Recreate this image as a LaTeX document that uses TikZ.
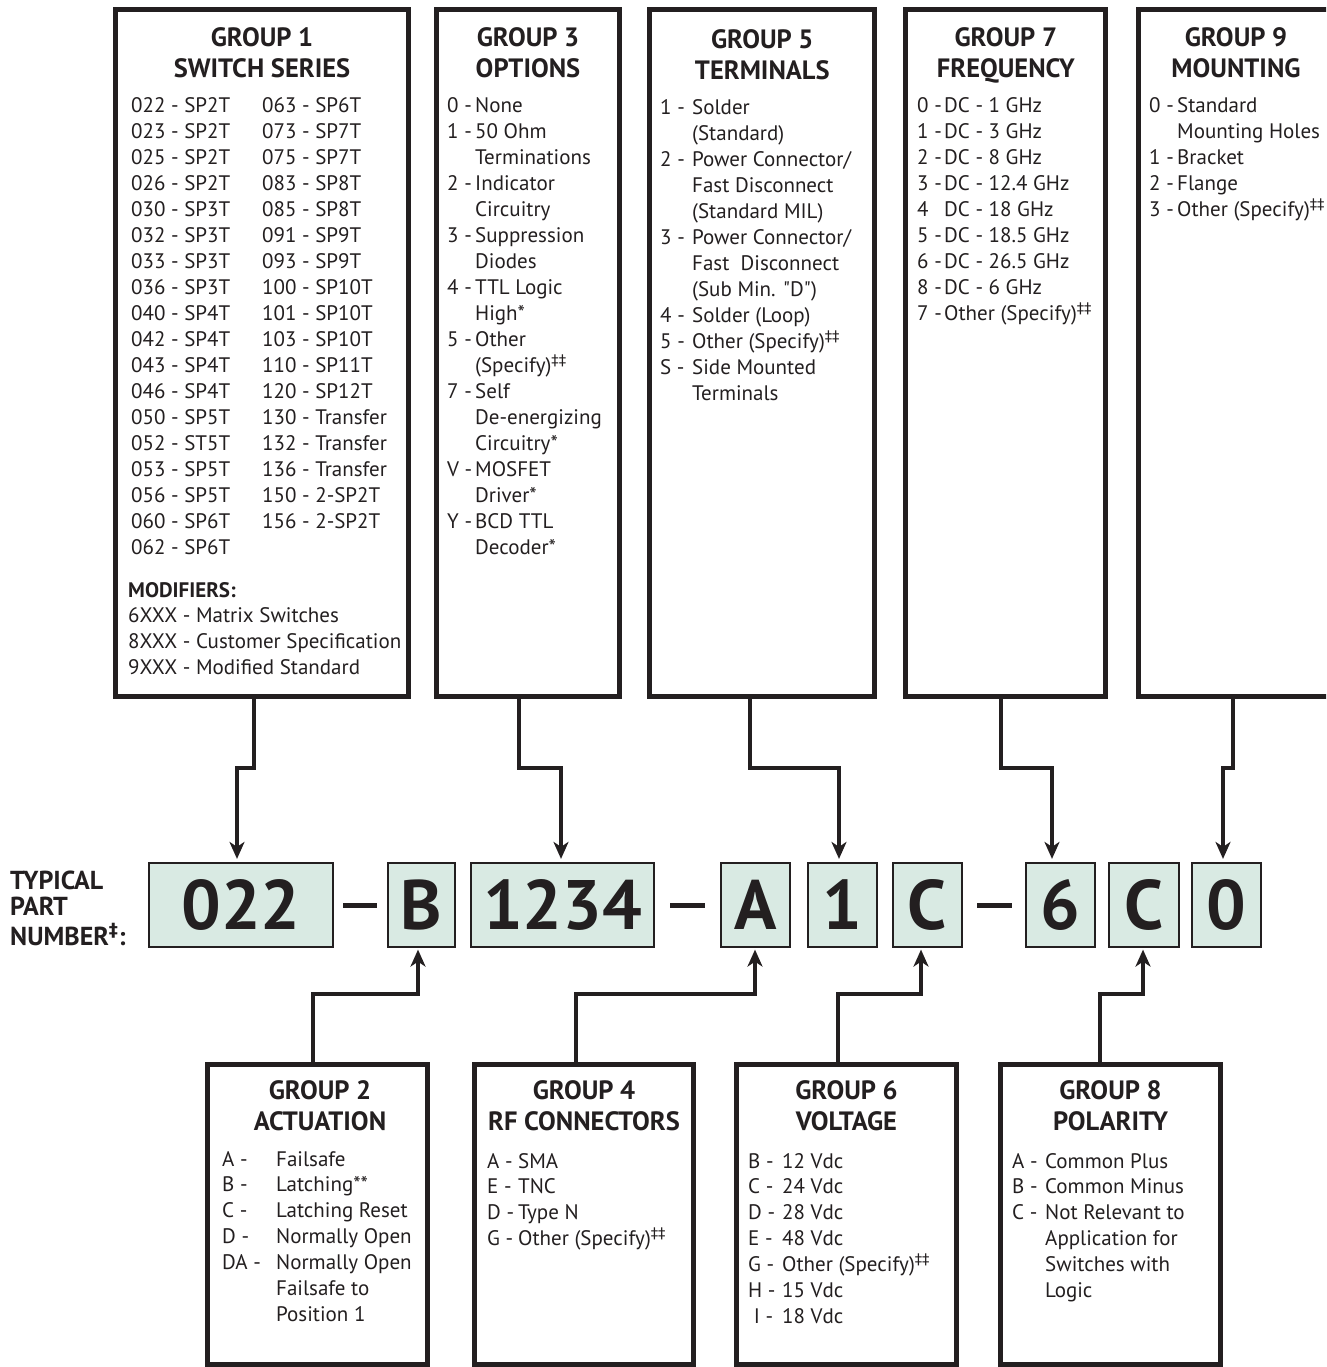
\documentclass[tikz,border=0pt]{standalone}
\usepackage{fontspec}
\setmainfont{PT Sans}
\newfontfamily\plainq{PT Sans}[Ligatures=TeXOff]
\newfontfamily\symf{DejaVu Sans}
\usetikzlibrary{arrows.meta}
\definecolor{ink}{HTML}{231F20}
\definecolor{mint}{HTML}{D9EAE3}
\newcommand\ddg{\textsuperscript{\symf ‡‡}}
\newcommand\sq{{\plainq\symbol{"22}}}
\begin{document}
\begin{tikzpicture}[x=1pt,y=-1pt,
  grp/.style={draw=ink,line width=5pt,fill=white,inner sep=0pt},
  head/.style={anchor=base,inner sep=0pt,text=ink,font=\bfseries\fontsize{26.5}{31}\selectfont},
  body/.style={anchor=base west,inner sep=0pt,text=ink,font=\fontsize{21}{25.95}\selectfont},
  pn/.style={draw=ink,line width=2.2pt,fill=mint,inner sep=0pt,minimum height=84pt,text=ink,font=\bfseries\fontsize{70}{80}\selectfont},
  conn/.style={draw=ink,line width=4pt,-{Stealth[length=17pt,width=15pt,inset=5pt]}},
  bar/.style={fill=ink}]
\useasboundingbox (0,0) rectangle (1326,1367);
\clip (0,0) rectangle (1326,1367);

% ---------- top boxes ----------
\node[grp,minimum width=293pt,minimum height=687pt] (g1) at (262,353) {};
\node[grp,minimum width=183pt,minimum height=687pt] (g3) at (528,353) {};
\node[grp,minimum width=225pt,minimum height=687pt] (g5) at (762.3,353) {};
\node[grp,minimum width=200pt,minimum height=687pt] (g7) at (1005.8,353) {};
\node[grp,minimum width=262pt,minimum height=687pt] (g9) at (1269.5,353) {};

% ---------- bottom boxes ----------
\node[grp,minimum width=220pt,minimum height=300pt] (g2) at (317.5,1214.5) {};
\node[grp,minimum width=219pt,minimum height=300pt] (g4) at (584,1214.5) {};
\node[grp,minimum width=220pt,minimum height=300pt] (g6) at (846.5,1214.5) {};
\node[grp,minimum width=220pt,minimum height=300pt] (g8) at (1110.5,1214.5) {};

% ---------- group 1 ----------
\node[head] (h1) at (262,47) {\begin{tabular}[t]{@{}c@{}}GROUP 1\\SWITCH SERIES\end{tabular}};
\node[body] (t1) at (131,113) {\begin{tabular}[t]{@{}p{131pt}@{}l@{}}
022 - SP2T & 063 - SP6T\\
023 - SP2T & 073 - SP7T\\
025 - SP2T & 075 - SP7T\\
026 - SP2T & 083 - SP8T\\
030 - SP3T & 085 - SP8T\\
032 - SP3T & 091 - SP9T\\
033 - SP3T & 093 - SP9T\\
036 - SP3T & 100 - SP10T\\
040 - SP4T & 101 - SP10T\\
042 - SP4T & 103 - SP10T\\
043 - SP4T & 110 - SP11T\\
046 - SP4T & 120 - SP12T\\
050 - SP5T & 130 - Transfer\\
052 - ST5T & 132 - Transfer\\
053 - SP5T & 136 - Transfer\\
056 - SP5T & 150 - 2-SP2T\\
060 - SP6T & 156 - 2-SP2T\\
062 - SP6T &
\end{tabular}};
\node[body] (m1) at (128,597) {\begin{tabular}[t]{@{}l@{}}
\textbf{MODIFIERS:}\\
6XXX - Matrix Switches\\
8XXX - Customer Specification\\
9XXX - Modified Standard
\end{tabular}};

% ---------- group 3 ----------
\node[head] (h3) at (528,47) {\begin{tabular}[t]{@{}c@{}}GROUP 3\\OPTIONS\end{tabular}};
\node[body] (t3) at (447,113) {\begin{tabular}[t]{@{}p{28pt}@{}l@{}}
0 - & None\\
1 - & 50 Ohm\\
 & Terminations\\
2 - & Indicator\\
 & Circuitry\\
3 - & Suppression\\
 & Diodes\\
4 - & TTL Logic\\
 & High*\\
5 - & Other\\
 & (Specify)\ddg\\
7 - & Self\\
 & De-energizing\\
 & Circuitry*\\
V - & MOSFET\\
 & Driver*\\
Y - & BCD TTL\\
 & Decoder*
\end{tabular}};

% ---------- group 5 ----------
\node[head] (h5) at (762.3,49) {\begin{tabular}[t]{@{}c@{}}GROUP 5\\TERMINALS\end{tabular}};
\node[body] (t5) at (660,115) {\begin{tabular}[t]{@{}p{32pt}@{}l@{}}
1 - & Solder\\
 & (Standard)\\
2 - & Power Connector/\\
 & Fast Disconnect\\
 & (Standard MIL)\\
3 - & Power Connector/\\
 & Fast~ Disconnect\\
 & (Sub Min. \sq D\sq)\\
4 - & Solder (Loop)\\
5 - & Other (Specify)\ddg\\
S - & Side Mounted\\
 & Terminals
\end{tabular}};

% ---------- group 7 ----------
\node[head] (h7) at (1005.8,47) {\begin{tabular}[t]{@{}c@{}}GROUP 7\\FREQUENCY\end{tabular}};
\node[body] (t7) at (917,113) {\begin{tabular}[t]{@{}p{27pt}@{}l@{}}
0 - & DC - 1 GHz\\
1 - & DC - 3 GHz\\
2 - & DC - 8 GHz\\
3 - & DC - 12.4 GHz\\
4 & DC - 18 GHz\\
5 - & DC - 18.5 GHz\\
6 - & DC - 26.5 GHz\\
8 - & DC - 6 GHz\\
7 - & Other (Specify)\ddg
\end{tabular}};

% ---------- group 9 ----------
\node[head] (h9) at (1236,47) {\begin{tabular}[t]{@{}c@{}}GROUP 9\\MOUNTING\end{tabular}};
\node[body] (t9) at (1149,113) {\begin{tabular}[t]{@{}p{28pt}@{}l@{}}
0 - & Standard\\
 & Mounting Holes\\
1 - & Bracket\\
2 - & Flange\\
3 - & Other (Specify)\ddg
\end{tabular}};

% ---------- group 2 ----------
\node[head] (h2) at (320,1099) {\begin{tabular}[t]{@{}c@{}}GROUP 2\\ACTUATION\end{tabular}};
\node[body] (t2) at (222,1166) {\begin{tabular}[t]{@{}p{54pt}@{}l@{}}
A - & Failsafe\\
B - & Latching**\\
C - & Latching Reset\\
D - & Normally Open\\
DA - & Normally Open\\
 & Failsafe to\\
 & Position 1
\end{tabular}};

% ---------- group 4 ----------
\node[head] (h4) at (584,1099) {\begin{tabular}[t]{@{}c@{}}GROUP 4\\RF CONNECTORS\end{tabular}};
\node[body] (t4) at (487,1168) {\begin{tabular}[t]{@{}p{31pt}@{}l@{}}
A - & SMA\\
E - & TNC\\
D - & Type N\\
G - & Other (Specify)\ddg
\end{tabular}};

% ---------- group 6 ----------
\node[head] (h6) at (846.5,1099) {\begin{tabular}[t]{@{}c@{}}GROUP 6\\VOLTAGE\end{tabular}};
\node[body] (t6) at (748,1168) {\begin{tabular}[t]{@{}p{34pt}@{}l@{}}
B - & 12 Vdc\\
C - & 24 Vdc\\
D - & 28 Vdc\\
E - & 48 Vdc\\
G - & Other (Specify)\ddg\\
H - & 15 Vdc\\
\ I - & 18 Vdc
\end{tabular}};

% ---------- group 8 ----------
\node[head] (h8) at (1110.5,1099) {\begin{tabular}[t]{@{}c@{}}GROUP 8\\POLARITY\end{tabular}};
\node[body] (t8) at (1012,1168) {\begin{tabular}[t]{@{}p{33pt}@{}l@{}}
A - & Common Plus\\
B - & Common Minus\\
C - & Not Relevant to\\
 & Application for\\
 & Switches with\\
 & Logic
\end{tabular}};

% ---------- typical part number ----------
\node[anchor=base west,inner sep=0pt,text=ink,font=\bfseries\fontsize{26}{26.5}\selectfont] (lab) at (10,889)
  {\begin{tabular}[t]{@{}l@{}}TYPICAL\\PART\\NUMBER\textsuperscript{\symf ‡}:\end{tabular}};

\node[pn,minimum width=184pt] (p1) at (241,905) {022};
\node[pn,minimum width=67pt] (p2) at (421.5,905) {B};
\node[pn,minimum width=183pt] (p3) at (562.5,905) {1234};
\node[pn,minimum width=69pt] (p4) at (755.5,905) {A};
\node[pn,minimum width=69pt] (p5) at (842.5,905) {1};
\node[pn,minimum width=69pt] (p6) at (927.5,905) {C};
\node[pn,minimum width=69pt] (p7) at (1060.5,905) {6};
\node[pn,minimum width=70pt] (p8) at (1144,905) {C};
\node[pn,minimum width=69pt] (p9) at (1226.5,905) {0};

\fill[bar] (343,903) rectangle (377,907.5);
\fill[bar] (670,903) rectangle (705,907.5);
\fill[bar] (977,903) rectangle (1012,907.5);

% ---------- connectors, top ----------
\coordinate (a1) at (254,768); \coordinate (b1) at (237,768);
\coordinate (a3) at (519,768); \coordinate (b3) at (561,768);
\coordinate (a5) at (750,768); \coordinate (b5) at (839,768);
\coordinate (a7) at (1001,768); \coordinate (b7) at (1052,768);
\coordinate (a9) at (1233,768); \coordinate (b9) at (1223,768);
\draw[conn,shorten >=3pt] (g1.south -| a1) -- (a1) -- (b1) -- (b1 |- p1.north);
\draw[conn,shorten >=3pt] (g3.south -| a3) -- (a3) -- (b3) -- (b3 |- p3.north);
\draw[conn,shorten >=3pt] (g5.south -| a5) -- (a5) -- (b5) -- (b5 |- p5.north);
\draw[conn,shorten >=3pt] (g7.south -| a7) -- (a7) -- (b7) -- (b7 |- p7.north);
\draw[conn,shorten >=3pt] (g9.south -| a9) -- (a9) -- (b9) -- (b9 |- p9.north);

% ---------- connectors, bottom ----------
\coordinate (c2) at (313,994); \coordinate (d2) at (418,994);
\coordinate (c4) at (576,994); \coordinate (d4) at (755,994);
\coordinate (c6) at (838,994); \coordinate (d6) at (921,994);
\coordinate (c8) at (1100,994); \coordinate (d8) at (1143,994);
\draw[conn,shorten >=1.5pt] (g2.north -| c2) -- (c2) -- (d2) -- (d2 |- p2.south);
\draw[conn,shorten >=1.5pt] (g4.north -| c4) -- (c4) -- (d4) -- (d4 |- p4.south);
\draw[conn,shorten >=1.5pt] (g6.north -| c6) -- (c6) -- (d6) -- (d6 |- p6.south);
\draw[conn,shorten >=1.5pt] (g8.north -| c8) -- (c8) -- (d8) -- (d8 |- p8.south);
\end{tikzpicture}
\end{document}
